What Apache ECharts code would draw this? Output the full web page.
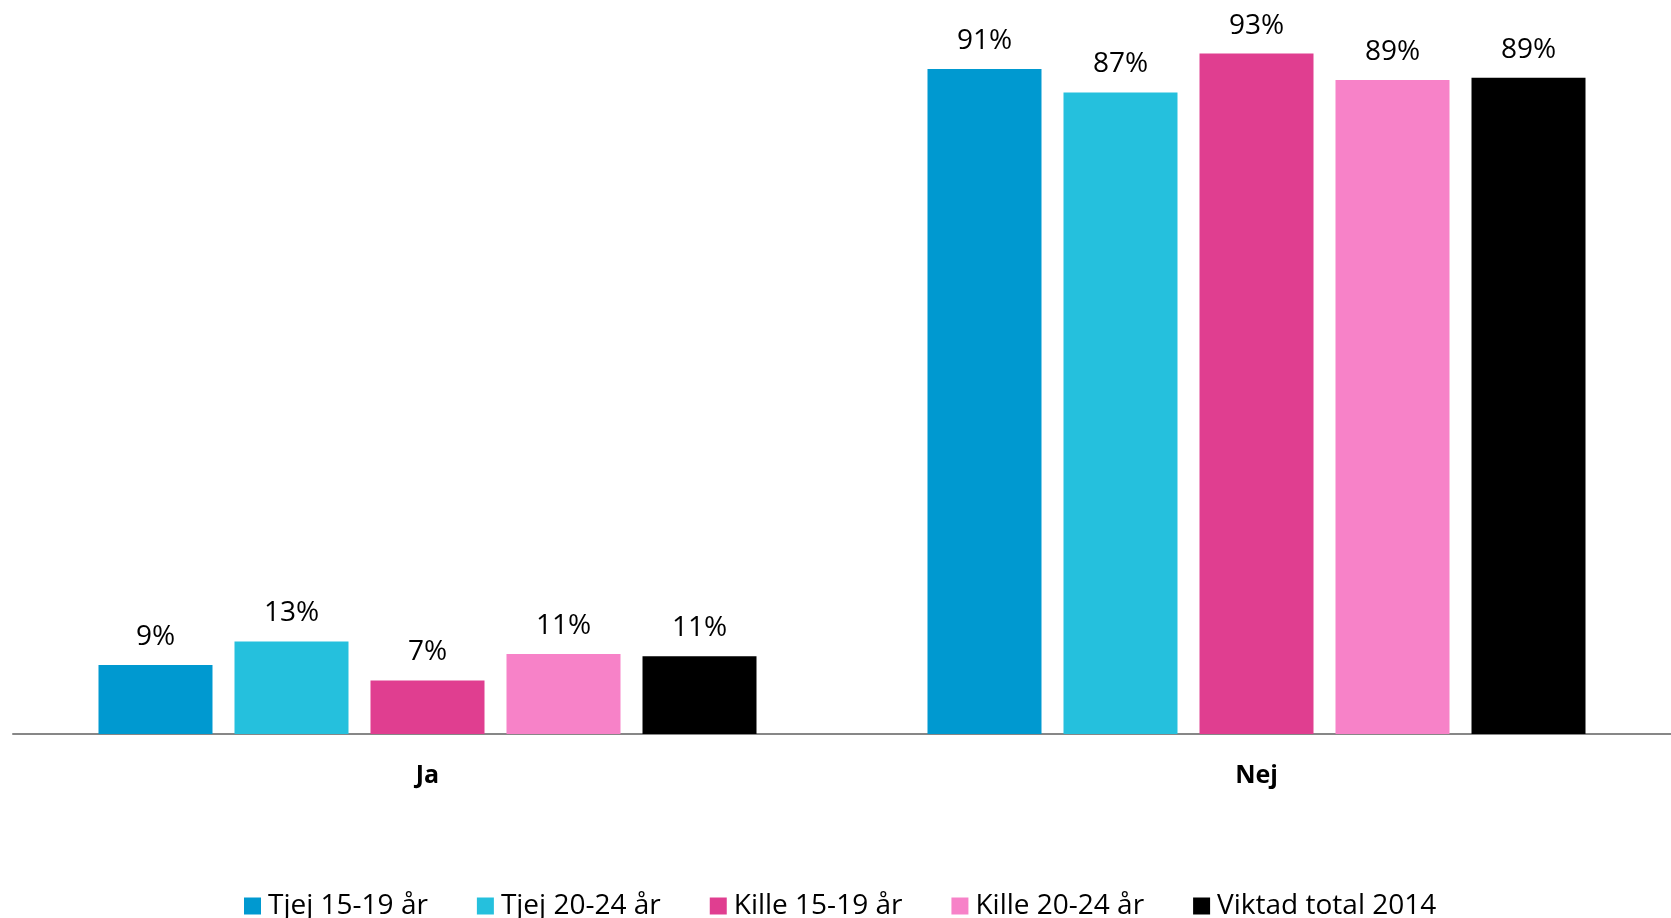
<!DOCTYPE html>
<html>
<head>
<meta charset="utf-8">
<script src="https://cdn.jsdelivr.net/npm/echarts@6/dist/echarts.min.js"></script>
<style>html,body{margin:0;padding:0;background:#fff}#c{width:1671px;height:918px}</style>
</head>
<body>
<div id="c"></div>
<script>
const categories = ['Ja', 'Nej'];
const seriesNames = ['Tjej 15-19 år', 'Tjej 20-24 år', 'Kille 15-19 år', 'Kille 20-24 år', 'Viktad total 2014'];
const tjej1519 = [9.4, 90.6];
const tjej2024 = [12.6, 87.4];
const kille1519 = [7.3, 92.7];
const kille2024 = [10.9, 89.1];
const viktadTotal = [10.6, 89.4];
const colors = ['#0099D0', '#25C0DD', '#E03E90', '#F782C8', '#000000'];

const values = [tjej1519, tjej2024, kille1519, kille2024, viktadTotal];
const font = 'Open Sans';
const chart = echarts.init(document.getElementById('c'));
chart.setOption({
  animation: false,
  textStyle: { fontFamily: font },
  grid: { left: 13, right: 0, top: 0, bottom: 184 },
  legend: {
    left: 239, top: 887,
    itemWidth: 17, itemHeight: 17, itemGap: 49,
    icon: 'rect',
    textStyle: { fontSize: 28, color: '#000', fontFamily: font, padding: [0, 0, 0, 2] },
    data: seriesNames
  },
  xAxis: {
    type: 'category', data: categories,
    axisLine: { lineStyle: { color: '#878787', width: 2 } },
    axisTick: { show: false },
    axisLabel: { fontSize: 25, fontWeight: 'bold', color: '#000', margin: 29, fontFamily: font }
  },
  yAxis: { type: 'value', min: 0, max: 100, show: false },
  series: values.map((v, i) => ({
    name: seriesNames[i], type: 'bar', data: v,
    barWidth: 114, barGap: '19.3%',
    itemStyle: { color: colors[i] },
    label: {
      show: true, position: 'top', distance: 14,
      fontSize: 28, color: '#000', fontFamily: font,
      formatter: p => Math.round(p.value) + '%'
    }
  }))
});
</script>
</body>
</html>
